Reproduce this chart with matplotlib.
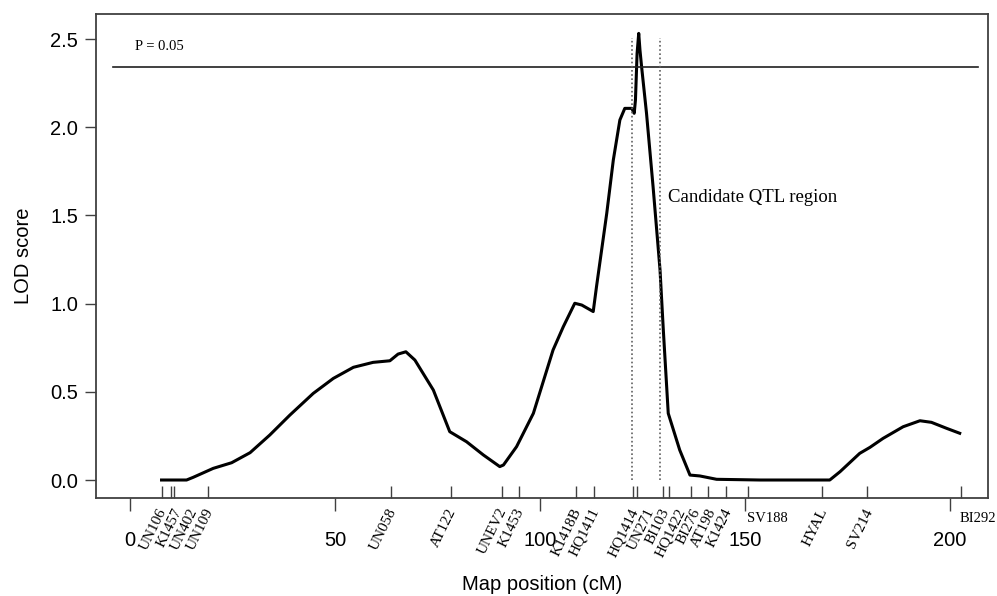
import matplotlib
matplotlib.use("Agg")
import matplotlib.pyplot as plt
import matplotlib.transforms as mtransforms

# ---- data ----
pos_cm = [7.7, 13.8, 15.4, 20.3, 24.8, 29.3, 34.1, 39.0, 44.7, 49.6, 54.5, 59.3,
          63.4, 65.4, 67.3, 69.5, 74.0, 78.0, 82.1, 86.2, 90.2, 91.1, 94.3, 98.4,
          103.2, 105.7, 108.5, 110.2, 113.0, 113.8, 116.3, 117.9, 119.5, 120.7,
          122.4, 123.0, 123.3, 123.7, 124.1, 124.4, 124.8, 126.0, 127.6, 129.3,
          130.1, 131.3, 134.1, 136.6, 139.0, 143.1, 153.7, 170.7, 173.2, 178.0,
          180.5, 183.7, 188.6, 192.7, 195.5, 199.2, 202.4]
lod = [0.0, 0.0, 0.015, 0.066, 0.098, 0.155, 0.255, 0.368, 0.491, 0.576, 0.639, 0.667,
       0.676, 0.714, 0.727, 0.68, 0.51, 0.274, 0.217, 0.142, 0.076, 0.085, 0.189, 0.378,
       0.737, 0.869, 1.002, 0.992, 0.955, 1.096, 1.512, 1.814, 2.041, 2.107,
       2.107, 2.079, 2.154, 2.419, 2.532, 2.438, 2.343, 2.079, 1.663, 1.19,
       0.85, 0.378, 0.17, 0.028, 0.023, 0.004, 0.0, 0.0, 0.047, 0.151,
       0.185, 0.236, 0.302, 0.336, 0.327, 0.293, 0.265]

marker_names = ["UN106", "K1457", "UN402", "UN109", "UN058", "AT122", "UNEV2", "K1453",
                "K1418B", "HQ1411", "HQ1414", "UN271", "BI103", "HQ1422", "BI276",
                "AT198", "K1424", "SV188", "HYAL", "SV214", "BI292"]
marker_pos = [7.7, 9.9, 10.7, 19.1, 63.6, 78.3, 90.7, 94.9,
              108.8, 113.2, 122.8, 123.8, 129.9, 131.5, 136.8,
              141.0, 145.5, 150.8, 168.9, 179.9, 202.7]
horizontal_markers = ["SV188", "BI292"]

x_ticks = [0, 50, 100, 150, 200]
y_ticks = [0.0, 0.5, 1.0, 1.5, 2.0, 2.5]
threshold = 2.343
threshold_label = "P = 0.05"
qtl_region = [122.5, 129.4]
qtl_label = "Candidate QTL region"

# ---- figure ----
sans = "Liberation Sans"
serif = "Liberation Serif"
DPI = 100
fig = plt.figure(figsize=(9.97, 5.96), dpi=DPI)
ax = fig.add_axes([96/997, 1-498/596, (988-96)/997, (498-14)/596])
ax.set_xlim(-8.29, 209.3)
ax.set_ylim(-0.102, 2.642)

frame_c = "#404040"
for s in ax.spines.values():
    s.set_color(frame_c)
    s.set_linewidth(1.3)

ax.plot(pos_cm, lod, color="black", lw=2.2, solid_joinstyle="round")

# threshold line
ax.plot([-4.1, 206.8], [threshold, threshold], color="#202020", lw=1.2)
ax.text(1.2, 2.455, threshold_label, family=serif, fontsize=10.5, va="center", ha="left")

# QTL region dotted lines
for xv in qtl_region:
    ax.plot([xv, xv], [0.0, 2.505], color="#606060", lw=1.2, ls=(0, (1, 1.5)))
ax.text(131.2, 1.604, qtl_label, family=serif, fontsize=13.5, va="center", ha="left")

# y axis
ax.set_yticks(y_ticks)
ax.set_yticklabels([f"{v:.1f}" for v in y_ticks], family=sans, fontsize=14.5)
ax.tick_params(axis="y", direction="out", length=8, width=1.0, color=frame_c, pad=5)
ax.set_ylabel("LOD score", family=sans, fontsize=14.5, labelpad=12)

# x axis major ticks
ax.set_xticks(x_ticks)
ax.set_xticklabels([str(v) for v in x_ticks], family=sans, fontsize=14.5)
ax.tick_params(axis="x", which="major", direction="out", length=9.5, width=1.0,
               color=frame_c, pad=14.5)
# marker ticks (inside)
ax.set_xticks(marker_pos, minor=True)
ax.tick_params(axis="x", which="minor", direction="in", length=8.5, width=1.0,
               color=frame_c, labelbottom=False)
ax.set_xlabel("Map position (cM)", family=sans, fontsize=14.5, labelpad=18)

# marker labels, spread apart so neighbouring rotated labels do not collide
trans = ax.get_xaxis_transform()
tick_px = [ax.transData.transform((p, 0))[0] for p in marker_pos]
min_gap = 15.5
label_px = []
for t in tick_px:
    lp = t if not label_px else max(t, label_px[-1] + min_gap)
    label_px.append(lp)

for name, p, t, lp in zip(marker_names, marker_pos, tick_px, label_px):
    dx = (lp - t) / DPI
    if name in horizontal_markers:
        off = mtransforms.ScaledTranslation(-1/DPI, -20/DPI, fig.dpi_scale_trans)
        ax.text(p, 0, name, transform=trans + off, family=serif, fontsize=10.5,
                ha="left", va="center", rotation=0)
    else:
        off = mtransforms.ScaledTranslation(dx + 2/DPI, -11/DPI, fig.dpi_scale_trans)
        ax.text(p, 0, name, transform=trans + off, family=serif, fontsize=11,
                ha="right", va="center", rotation=64, rotation_mode="anchor")

fig.savefig("out.png", dpi=DPI)
